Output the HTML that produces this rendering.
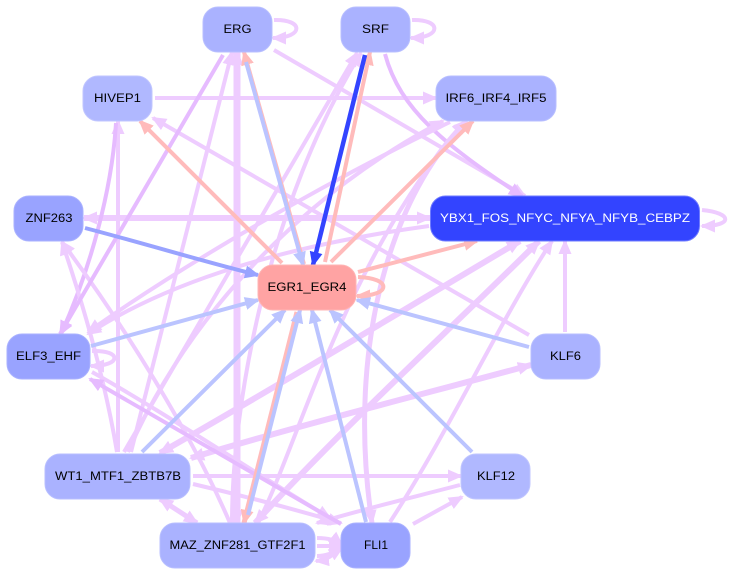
<!DOCTYPE html>
<html><head><meta charset="utf-8"><style>
html,body{margin:0;padding:0;background:#fff}
svg{display:block}
text{font-family:"Liberation Sans",sans-serif;font-size:12.3px;text-anchor:middle;fill:#000}
path{fill:none}
.p{stroke:#eeccff}.r{stroke:#ffbbbb}.b{stroke:#bbc4ff}.n{stroke:#99a3ff}.d{stroke:#3344ff}.v{stroke:#e6bbff}
.p.e{marker-end:url(#mp)}.p.s{marker-start:url(#mp)}
.r.e{marker-end:url(#mr)}.b.e{marker-end:url(#mb)}.n.e{marker-end:url(#mn)}.d.e{marker-end:url(#md)}
.v.e{marker-end:url(#mv)}.v.s{marker-start:url(#mv)}
</style></head><body>
<svg width="731" height="575" viewBox="0 0 731 575" xmlns="http://www.w3.org/2000/svg">
<defs>
<marker id="mp" markerUnits="userSpaceOnUse" markerWidth="16" markerHeight="16" refX="13" refY="8" orient="auto-start-reverse"><polygon points="0,1.500 15,8 0,14.500" fill="#eeccff"/></marker>
<marker id="mr" markerUnits="userSpaceOnUse" markerWidth="16" markerHeight="16" refX="13" refY="8" orient="auto-start-reverse"><polygon points="0,1.500 15,8 0,14.500" fill="#ffbbbb"/></marker>
<marker id="mb" markerUnits="userSpaceOnUse" markerWidth="16" markerHeight="16" refX="13" refY="8" orient="auto-start-reverse"><polygon points="0,1.500 15,8 0,14.500" fill="#bbc4ff"/></marker>
<marker id="mn" markerUnits="userSpaceOnUse" markerWidth="16" markerHeight="16" refX="13" refY="8" orient="auto-start-reverse"><polygon points="0,1.500 15,8 0,14.500" fill="#99a3ff"/></marker>
<marker id="md" markerUnits="userSpaceOnUse" markerWidth="16" markerHeight="16" refX="13" refY="8" orient="auto-start-reverse"><polygon points="0,1.500 15,8 0,14.500" fill="#3344ff"/></marker>
<marker id="mv" markerUnits="userSpaceOnUse" markerWidth="16" markerHeight="16" refX="13" refY="8" orient="auto-start-reverse"><polygon points="0,1.500 15,8 0,14.500" fill="#e6bbff"/></marker>
</defs>
<rect width="731" height="575" fill="#fff"/>

<g stroke-width="4" stroke-linecap="butt">
<!-- self loops -->
<path class="p e" d="M274,20 C304,19 304,38 273,38"/>
<path class="p e" d="M412,20 C442,19 442,38 411,38"/>
<path class="p e" d="M702,210 C733,213 733,226 702,226"/>
<path class="p e" d="M92,351 C122,350 122,366 91,366"/>

<!-- purple edges -->
<path class="p e" d="M274,50 L525,196"/>
<path class="p e" d="M155,98 L436,98"/>
<path class="v e" d="M385,54 C400,110 445,145 522,196"/>
<path class="p e" d="M529,335 L153,118"/>
<path class="p s e" style="stroke-width:6" d="M84,218 L430,218"/>
<path class="p e" d="M429,226 C290,245 170,280 88,334"/>
<path class="p e" d="M450,122 C330,180 190,260 88,332"/>
<path class="p s e" style="stroke-width:6" d="M191,458 C300,425 420,395 531,365"/>
<path class="p s e" style="stroke-width:6" d="M160,453 C280,385 420,300 520,241"/>
<path class="p s e" style="stroke-width:6" d="M255,523 C350,420 450,330 539,241"/>
<path class="p e" d="M390,522 C450,430 500,320 552,241"/>
<path class="p e" d="M565,332 L565,241"/>
<path class="p e" d="M92,372 C160,410 250,470 330,518"/>
<path class="p e" d="M193,476 L461,476"/>
<path class="p e" d="M193,484 C240,495 290,508 341,523"/>
<path class="p s e" style="stroke-width:5" d="M160,499 L197,523"/>
<path class="p e" d="M460,485 C410,498 360,510 317,523"/>
<path class="p e" d="M413,524 L462,497"/>
<path class="p s e" style="stroke-width:5" d="M467,121 C395,190 345,340 372,523"/>
<path class="p e" d="M258,523 C300,440 345,260 465,121"/>
<path class="p e" d="M118,452 L118,121"/>
<path class="v e" d="M116,123 C112,190 90,270 61,334"/>
<path class="p e" d="M131,452 L232,52"/>
<path class="p e" d="M124,452 L357,53"/>
<path class="p e" d="M232,523 C232,400 270,200 361,53"/>
<path class="p e" d="M128,452 C190,310 310,190 443,121"/>
<path class="p e" d="M230,523 C190,430 120,320 62,242"/>
<path class="p e" d="M117,452 C105,380 85,310 62,242"/>
<path class="v e" d="M223,55 L60,334"/>
<path class="p s e" style="stroke-width:7" d="M237,523 L237,52"/>
<path class="v s" d="M90,379 L341,524"/>

<!-- pink edges -->
<path class="r e" d="M282,263 L140,121"/>
<path class="r e" d="M304,264 L244,52"/>
<path class="r e" d="M325,262 L370,52"/>
<path class="r e" d="M358,272 L477,241"/>
<path class="r e" d="M331,262 L473,121"/>
<path class="r e" style="stroke-width:5" d="M297,312 L244,523"/>
<path class="r e" d="M358,277 C392,278 392,296 357,296"/>

<!-- blue edges -->
<path class="b e" d="M246,62 L303,265"/>
<path class="d e" style="stroke-width:4.500" d="M365,55 L313,265"/>
<path class="n e" d="M85,228 C150,245 205,262 258,275"/>
<path class="b e" d="M91,346 L258,300"/>
<path class="b e" d="M142,452 L285,310"/>
<path class="b e" d="M529,347 L357,300"/>
<path class="b e" d="M472,452 L330,310"/>
<path class="b e" d="M366,522 L312,310"/>
<path class="b e" d="M248,515 L300,310"/>

<!-- MAZ / FLI1 cluster -->
<path class="p e" d="M317,538 C328,538 336,540 342,545"/>
<path class="p e" d="M317,546 L342,546"/>
<path class="p e" d="M317,556 C326,556 334,553 342,548"/>
<path class="p e" d="M342,545 C334,556 326,560 316,561"/>
</g>

<!-- nodes -->
<g stroke-width="1">
<rect x="203" y="7" width="69" height="45" rx="15" fill="#aab2ff" stroke="#b8bfff"/>
<rect x="341" y="7" width="69" height="45" rx="15" fill="#aab2ff" stroke="#b8bfff"/>
<rect x="83" y="76" width="69" height="45" rx="15" fill="#b0b8ff" stroke="#c0c6ff"/>
<rect x="436" y="76" width="120" height="45" rx="15" fill="#aab2ff" stroke="#b8bfff"/>
<rect x="14" y="196" width="69" height="45" rx="15" fill="#99a3ff" stroke="#aab2ff"/>
<rect x="430.500" y="196" width="269" height="45" rx="15" fill="#3344ff" stroke="#6f7bff"/>
<rect x="258" y="265" width="98" height="45" rx="15" fill="#ffa3a3" stroke="#ffb4b4"/>
<rect x="7" y="334" width="83" height="45" rx="15" fill="#99a3ff" stroke="#aab2ff"/>
<rect x="531" y="334" width="69" height="45" rx="15" fill="#aab2ff" stroke="#b8bfff"/>
<rect x="45" y="454" width="145" height="45" rx="15" fill="#aab2ff" stroke="#b8bfff"/>
<rect x="461" y="454" width="69" height="45" rx="15" fill="#b0b8ff" stroke="#c0c6ff"/>
<rect x="160" y="523" width="155" height="45" rx="15" fill="#aab2ff" stroke="#b8bfff"/>
<rect x="341" y="523" width="69" height="45" rx="15" fill="#99a3ff" stroke="#aab2ff"/>
</g>
<g>
<text x="237.500" y="33" textLength="28" lengthAdjust="spacingAndGlyphs">ERG</text>
<text x="375.500" y="33" textLength="27" lengthAdjust="spacingAndGlyphs">SRF</text>
<text x="117.500" y="102" textLength="47" lengthAdjust="spacingAndGlyphs">HIVEP1</text>
<text x="496" y="102" textLength="101" lengthAdjust="spacingAndGlyphs">IRF6_IRF4_IRF5</text>
<text x="49" y="222" textLength="47" lengthAdjust="spacingAndGlyphs">ZNF263</text>
<text x="565" y="222" textLength="250" lengthAdjust="spacingAndGlyphs" style="fill:#fff">YBX1_FOS_NFYC_NFYA_NFYB_CEBPZ</text>
<text x="307" y="291" textLength="79" lengthAdjust="spacingAndGlyphs">EGR1_EGR4</text>
<text x="48.500" y="360" textLength="65" lengthAdjust="spacingAndGlyphs">ELF3_EHF</text>
<text x="565.500" y="360" textLength="31" lengthAdjust="spacingAndGlyphs">KLF6</text>
<text x="118" y="480" textLength="126" lengthAdjust="spacingAndGlyphs">WT1_MTF1_ZBTB7B</text>
<text x="496" y="480" textLength="38" lengthAdjust="spacingAndGlyphs">KLF12</text>
<text x="237.500" y="549" textLength="136" lengthAdjust="spacingAndGlyphs">MAZ_ZNF281_GTF2F1</text>
<text x="376" y="549" textLength="24" lengthAdjust="spacingAndGlyphs">FLI1</text>
</g>
</svg>
</body></html>
